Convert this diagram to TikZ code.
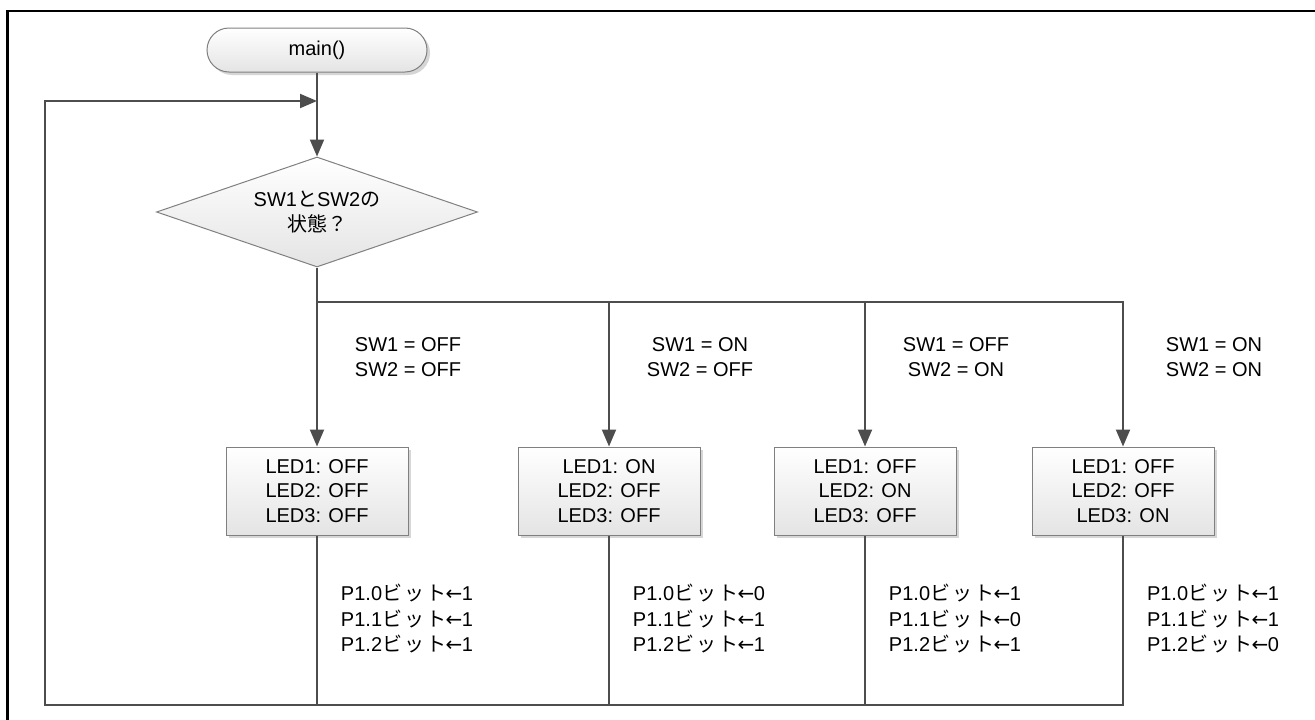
\documentclass[tikz,border=0pt]{standalone}
\usepackage{fontspec}
\setmainfont{Liberation Sans}
\newfontfamily\jp{Noto Sans CJK JP}
\newfontfamily\dv{DejaVu Sans}
\usetikzlibrary{arrows.meta,shapes.geometric,shadows}
\definecolor{linegray}{HTML}{4D4D4D}
\definecolor{boxgray}{HTML}{808080}
\definecolor{fillgray}{HTML}{E4E4E4}
\definecolor{shadowgray}{HTML}{D6D6D6}
\newcommand\bitt{{\jp ビ\kern2ptッ\kern2ptト}}
\newcommand\larr{{\dv\kern-0.5pt←\kern-0.5pt}}
\newcommand\fs{\fontsize{20}{24.5}\selectfont}
\tikzset{
  conn/.style={draw=linegray, line width=2pt},
  arr/.style={conn, -{Triangle[length=17pt,width=14pt]}},
  shad/.style={drop shadow={shadow xshift=3pt, shadow yshift=-3pt, fill=shadowgray, opacity=1}},
  procbox/.style={draw=boxgray, line width=1pt, top color=white, bottom color=fillgray,
    minimum width=182pt, minimum height=88pt, align=center, inner sep=0pt, font=\fs, shad},
  termbox/.style={draw=boxgray, line width=1pt, top color=white, bottom color=fillgray,
    rounded corners=22pt, minimum width=220pt, minimum height=44pt, inner sep=0pt, font=\fs, shad},
  decbox/.style={diamond, aspect=2.9, draw=boxgray, line width=1pt, top color=white, bottom color=fillgray,
    minimum width=321pt, minimum height=110pt, inner sep=0pt, align=center,
    font=\fontsize{20}{25}\selectfont},
  lbl/.style={align=center, inner sep=0pt, font=\fs},
  plbl/.style={align=center, inner sep=0pt, font=\fontsize{20}{25.5}\selectfont},
}
\begin{document}
\begin{tikzpicture}[x=1pt,y=-1pt]
\useasboundingbox (0,0) rectangle (1315,720);
\fill[white] (0,0) rectangle (1315,720);
% frame (only top and left edges visible)
\draw[black, line width=2.5pt] (7.5,720) -- (7.5,11) -- (1315,11);

% nodes
\node[termbox] (start) at (317,50) {main()};
\node[decbox] (dec) at (317,212) {SW1{\jp と}SW2{\jp の}\\{\jp 状態？}};
\node[procbox] (b1) at (317,491) {LED1: OFF\\LED2: OFF\\LED3: OFF};
\node[procbox] (b2) at (609,491) {LED1: ON\\LED2: OFF\\LED3: OFF};
\node[procbox] (b3) at (865,491) {LED1: OFF\\LED2: ON\\LED3: OFF};
\node[procbox] (b4) at (1123,491) {LED1: OFF\\LED2: OFF\\LED3: ON};

\node[lbl] (l1) at (408,357) {SW1 = OFF\\SW2 = OFF};
\node[lbl] (l2) at (700,357) {SW1 = ON\\SW2 = OFF};
\node[lbl] (l3) at (956,357) {SW1 = OFF\\SW2 = ON};
\node[lbl] (l4) at (1214,357) {SW1 = ON\\SW2 = ON};

\node[plbl] (p1) at (407,619) {P1.0\bitt\larr1\\P1.1\bitt\larr1\\P1.2\bitt\larr1};
\node[plbl] (p2) at (699,619) {P1.0\bitt\larr0\\P1.1\bitt\larr1\\P1.2\bitt\larr1};
\node[plbl] (p3) at (955,619) {P1.0\bitt\larr1\\P1.1\bitt\larr0\\P1.2\bitt\larr1};
\node[plbl] (p4) at (1213,619) {P1.0\bitt\larr1\\P1.1\bitt\larr1\\P1.2\bitt\larr0};

\coordinate (join) at (317,101);
\coordinate (bus) at (317,302);
\coordinate (bot) at (45,705);

% connectors
\draw[arr] (start.south) -- (dec.north);
\draw[arr] (dec.south) -- (b1.north);
\draw[arr] (bus) -| (b2.north);
\draw[arr] (bus) -| (b3.north);
\draw[arr] (bus) -| (b4.north);
\draw[conn] (b1.south) -- (b1.south |- bot);
\draw[conn] (b2.south) -- (b2.south |- bot);
\draw[conn] (b3.south) -- (b3.south |- bot);
\draw[arr] (b4.south) |- (bot) |- (join);
\end{tikzpicture}
\end{document}
